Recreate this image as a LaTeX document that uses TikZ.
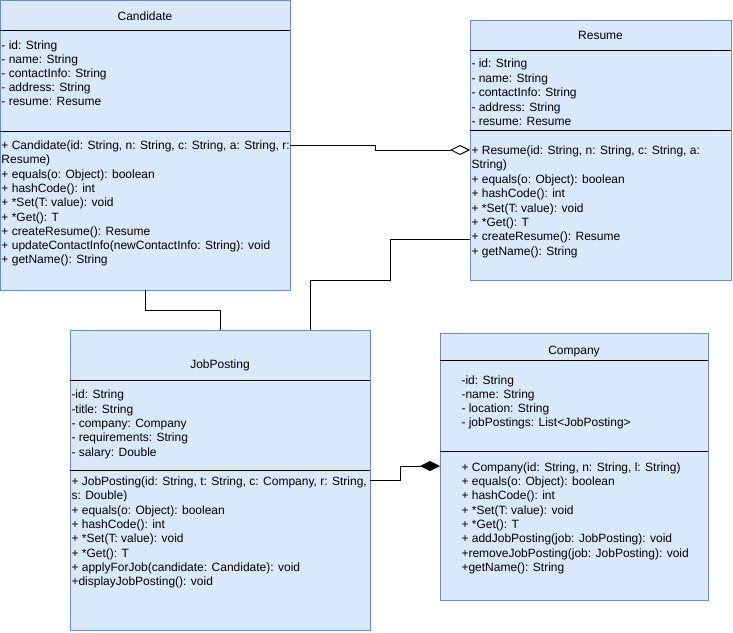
\documentclass[tikz,border=0pt]{standalone}
\usepackage{fontspec}
\setmainfont{Liberation Sans}
\usetikzlibrary{arrows.meta,calc}
\definecolor{classfill}{HTML}{DAE8FC}
\definecolor{classline}{HTML}{6C8EBF}

\begin{document}
\begin{tikzpicture}[x=1pt,y=-1pt,line width=1pt]
    \tikzstyle{classbox}=[draw=classline,fill=classfill,rectangle,anchor=north west,inner sep=0pt,outer sep=0pt]
    \tikzstyle{title}=[font=\fontsize{12}{14.3}\selectfont,anchor=base,inner sep=0pt]
    \tikzstyle{members}=[align=left,anchor=north west,inner sep=0pt]
    \tikzstyle{link}=[draw=black,line width=1pt]
    \useasboundingbox (0,0) rectangle (733,632);

    % class boxes
    \foreach \name/\x/\y/\w/\h in {cand/0/0/290/290, res/470/20/261/260, job/70/330/300/300, comp/440/333/268/267}
        \node[classbox,minimum width=\w pt,minimum height=\h pt] (\name) at (\x,\y) {};

    % dividers
    \foreach \name/\a/\b in {cand/30/131, res/30/110, job/50/140, comp/27/118}
    {
        \draw ($(\name.north west)+(0,\a)$) -- ($(\name.north east)+(0,\a)$);
        \draw ($(\name.north west)+(0,\b)$) -- ($(\name.north east)+(0,\b)$);
    }

    % titles
    \node[title] (cand-title) at (145,20) {Candidate};
    \node[title] (res-title) at (600.5,39) {Resume};
    \node[title] (job-title) at (220,368.5) {JobPosting};
    \node[title] (comp-title) at (574,354.5) {Company};

    % Candidate
    \node[members,font=\fontsize{12}{14}\selectfont] (cand-attr) at (1,40.4) {- id: String\\- name: String\\- contactInfo: String\\- address: String\\- resume: Resume};
    \node[members,font=\fontsize{12}{14.3}\selectfont] (cand-ops) at (1,140.4) {+ Candidate(id: String, n: String, c: String, a: String, r:\\Resume)\\+ equals(o: Object): boolean\\+ hashCode(): int\\+ *Set(T: value): void\\+ *Get(): T\\+ createResume(): Resume\\+ updateContactInfo(newContactInfo: String): void\\+ getName(): String};

    % Resume
    \node[members,font=\fontsize{12}{14.6}\selectfont] (res-attr) at (471,58.4) {- id: String\\- name: String\\- contactInfo: String\\- address: String\\- resume: Resume};
    \node[members,font=\fontsize{12}{14.4}\selectfont] (res-ops) at (471,145.4) {+ Resume(id: String, n: String, c: String, a:\\String)\\+ equals(o: Object): boolean\\+ hashCode(): int\\+ *Set(T: value): void\\+ *Get(): T\\+ createResume(): Resume\\+ getName(): String};

    % JobPosting
    \node[members,font=\fontsize{12}{14.35}\selectfont] (job-attr) at (71,389.7) {-id: String\\-title: String\\- company: Company\\- requirements: String\\- salary: Double};
    \node[members,font=\fontsize{12}{14.3}\selectfont] (job-ops) at (71,476.4) {+ JobPosting(id: String, t: String, c: Company, r: String,\\s: Double)\\+ equals(o: Object): boolean\\+ hashCode(): int\\+ *Set(T: value): void\\+ *Get(): T\\+ applyForJob(candidate: Candidate): void\\+displayJobPosting(): void};

    % Company
    \node[members,font=\fontsize{12}{14}\selectfont] (comp-attr) at (461,375.4) {-id: String\\-name: String\\- location: String\\- jobPostings: List<JobPosting>};
    \node[members,font=\fontsize{12}{14.3}\selectfont] (comp-ops) at (461,462) {+ Company(id: String, n: String, l: String)\\+ equals(o: Object): boolean\\+ hashCode(): int\\+ *Set(T: value): void\\+ *Get(): T\\+ addJobPosting(job: JobPosting): void\\+removeJobPosting(job: JobPosting): void\\+getName(): String};

    % connectors
    \coordinate (c1) at ($(cand.north east)+(0,145)$);
    \coordinate (r1) at ($(res.north west)+(0,130)$);
    \draw[link,-{Diamond[open,length=20pt,width=10pt]}] (c1) -- (375,145) -- (375,150) -- (r1);

    \draw[link] (cand.south) -- (145,310) -- (220,310) -- (job.north);

    \coordinate (j1) at ($(job.north east)+(-60,0)$);
    \coordinate (r2) at ($(res.north west)+(0,219)$);
    \draw[link] (j1) -- (310,280) -- (390,280) -- (390,239) -- (r2);

    \coordinate (j2) at ($(job.north east)+(0,150)$);
    \coordinate (k1) at ($(comp.north west)+(0,133)$);
    \draw[link,-{Diamond[length=20pt,width=10pt]}] (j2) -- (400,480) -- (400,466) -- (k1);
\end{tikzpicture}
\end{document}
